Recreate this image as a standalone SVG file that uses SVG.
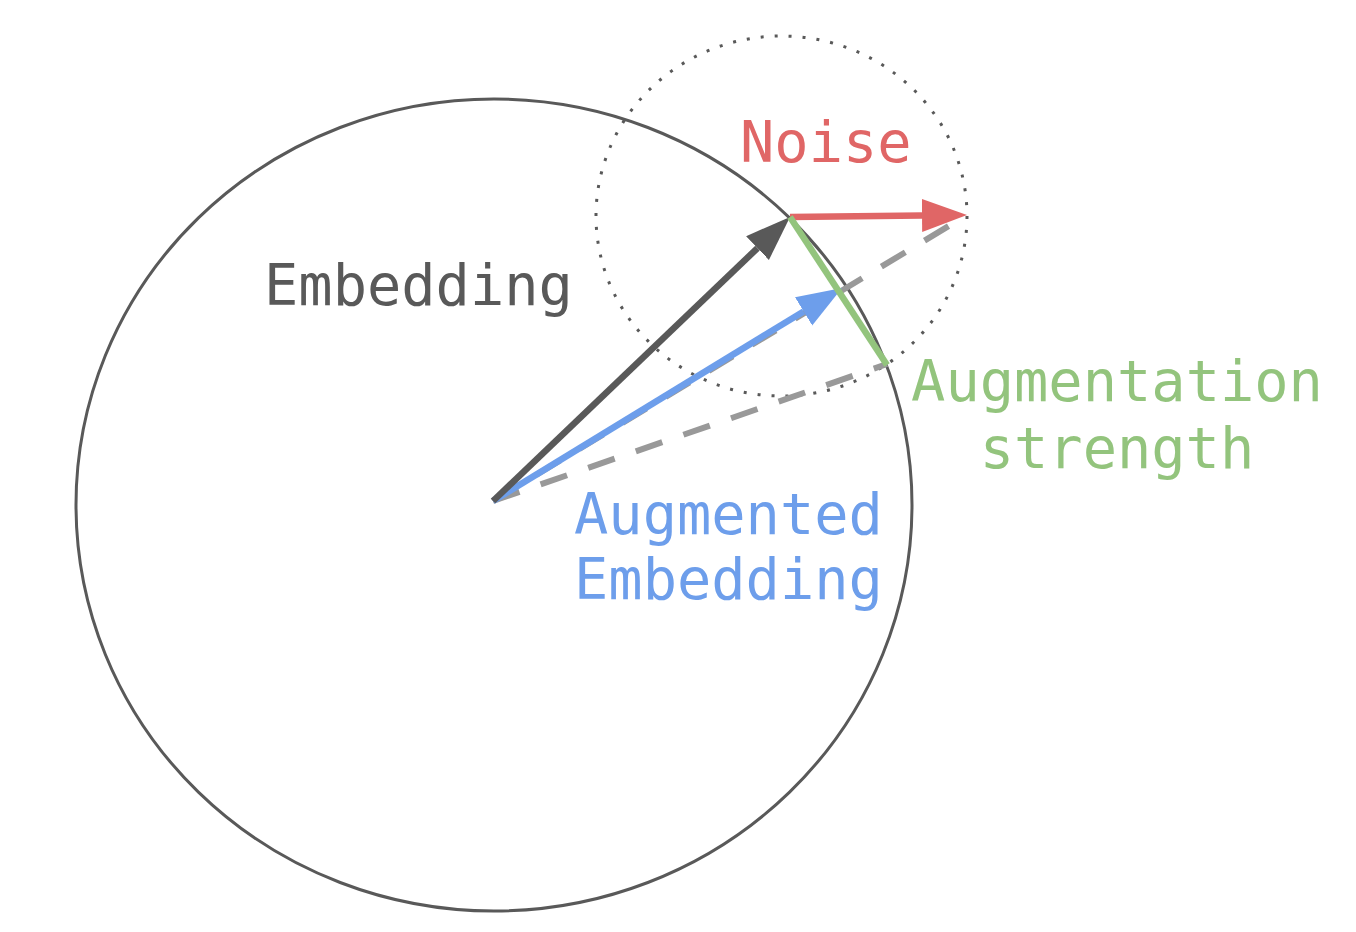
<svg xmlns="http://www.w3.org/2000/svg" width="1356" height="932" viewBox="0 0 1356 932">
  <style>
    .lbl { font-family: "DejaVu Sans Mono", "Liberation Mono", monospace; font-size: 57px; }
    .dash { fill: none; stroke: #999999; stroke-width: 6; stroke-dasharray: 28 22.4; }
  </style>
  <defs>
    <marker id="ahDark" markerUnits="userSpaceOnUse" markerWidth="48" markerHeight="36" refX="0" refY="16.5" orient="auto">
      <path d="M0,0 L45,16.5 L0,33 z" fill="#595959"/>
    </marker>
    <marker id="ahBlue" markerUnits="userSpaceOnUse" markerWidth="48" markerHeight="36" refX="0" refY="16.5" orient="auto">
      <path d="M0,0 L45,16.5 L0,33 z" fill="#6d9eeb"/>
    </marker>
    <marker id="ahRed" markerUnits="userSpaceOnUse" markerWidth="48" markerHeight="36" refX="0" refY="16.5" orient="auto">
      <path d="M0,0 L45,16.5 L0,33 z" fill="#e06666"/>
    </marker>
  </defs>
  <rect width="1356" height="932" fill="#ffffff"/>

  <g id="embedding-sphere">
    <ellipse cx="494" cy="505" rx="418" ry="406" fill="none" stroke="#595959" stroke-width="3"/>
  </g>
  <g id="noise-region">
    <ellipse cx="781.5" cy="216" rx="185.5" ry="180" fill="none" stroke="#595959" stroke-width="3" stroke-dasharray="3 11"/>
  </g>

  <g id="connectors">
    <line class="dash" x1="493" y1="501" x2="967" y2="215"/>
    <line class="dash" x1="493" y1="501" x2="887" y2="364"/>
    <line id="augmented-arrow" x1="493" y1="501" x2="803.6" y2="311.4" stroke="#6d9eeb" stroke-width="6.5" marker-end="url(#ahBlue)"/>
    <line id="embedding-arrow" x1="493" y1="501" x2="757.5" y2="248.1" stroke="#595959" stroke-width="6.5" marker-end="url(#ahDark)"/>
    <line id="noise-arrow" x1="790" y1="217" x2="922" y2="215.5" stroke="#e06666" stroke-width="6.5" marker-end="url(#ahRed)"/>
    <line id="strength-line" x1="790" y1="217" x2="887" y2="365" stroke="#93c47d" stroke-width="6.5"/>
  </g>

  <g id="label-embedding">
    <text class="lbl" x="264" y="305" fill="#595959">Embedding</text>
  </g>
  <g id="label-noise">
    <text class="lbl" x="740" y="162" fill="#e06666">Noise</text>
  </g>
  <g id="label-augmented">
    <text class="lbl" x="574" y="534" fill="#6d9eeb">Augmented</text>
    <text class="lbl" x="574" y="599" fill="#6d9eeb">Embedding</text>
  </g>
  <g id="label-strength">
    <text class="lbl" x="1117" y="401" fill="#93c47d" text-anchor="middle">Augmentation</text>
    <text class="lbl" x="1117" y="468" fill="#93c47d" text-anchor="middle">strength</text>
  </g>
</svg>
